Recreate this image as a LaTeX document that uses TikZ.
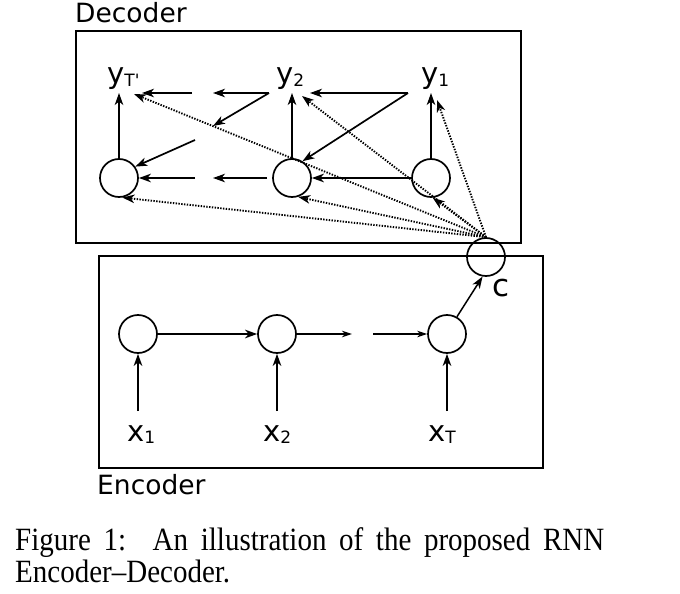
\documentclass[tikz,border=0pt]{standalone}
\usepackage{fontspec}
\setmainfont{Liberation Serif}
\newfontfamily\djv{DejaVu Sans}
\usetikzlibrary{arrows.meta}
\newcommand{\sbs}[1]{\raisebox{-2.5pt}{\fontsize{17}{17}\selectfont #1}}
\begin{document}
\begin{tikzpicture}[x=1pt,y=-1pt,
  unit/.style={circle,draw,line width=1.7pt,minimum size=38pt,inner sep=0pt},
  var/.style={font=\djv\fontsize{29}{29}\selectfont,inner sep=0pt,anchor=base west},
  ttl/.style={font=\djv\fontsize{26.5}{26.5}\selectfont,inner sep=0pt,anchor=base west},
  box/.style={draw,line width=1.7pt},
  arr/.style={-{Stealth[length=12pt,width=8.5pt,inset=3.5pt]},line width=1.7pt},
  thinarr/.style={-{Stealth[length=10pt,width=6.5pt,inset=3pt]},line width=1.1pt},
  dots/.style={-{Stealth[length=12pt,width=8.5pt,inset=3.5pt]},line width=1.9pt,dash pattern=on 1.4pt off 1.4pt}]
\useasboundingbox (0,0) rectangle (680,594);
% boxes
\draw[box] (76,31) rectangle (521,243);
\draw[box] (99,256) rectangle (543,468);
\node[ttl] (dec) at (75,23) {Decoder};
\node[ttl] (enc) at (97,494) {Encoder};
% decoder units
\node[unit] (d3) at (119,178) {};
\node[unit] (d2) at (292,178) {};
\node[unit] (d1) at (431,178) {};
\node[var] (yT) at (107,84) {y\sbs{T\textquotesingle}};
\node[var] (y2) at (276,84) {y\sbs{2}};
\node[var] (y1) at (421,84) {y\sbs{1}};
% context
\node[unit] (c) at (486,257) {};
\node[var,font=\djv\fontsize{31}{31}\selectfont] (cl) at (492,296) {c};
% encoder units
\node[unit] (e1) at (138,334) {};
\node[unit] (e2) at (277,334) {};
\node[unit] (e3) at (447,334) {};
\node[var] (x1) at (127,441) {x\sbs{1}};
\node[var] (x2) at (263,441) {x\sbs{2}};
\node[var] (xT) at (428,441) {x\sbs{T}};
% helper coordinates
\coordinate (yTh) at (119,93);
\coordinate (y2h) at (292,93);
\coordinate (y1h) at (431,93);
\coordinate (yTd) at (134,94);
\coordinate (y2d) at (302,96);
\coordinate (y1d) at (437,100);
\coordinate (t1a) at (192,93);
\coordinate (t1b) at (142,93);
\coordinate (t2a) at (269,93);
\coordinate (t2b) at (213,93);
\coordinate (t3a) at (408,93);
\coordinate (t3b) at (310,93);
\coordinate (g2b) at (213,126);
\coordinate (g1a) at (195,140);
\coordinate (b1a) at (195,178);
\coordinate (b2a) at (267,178);
\coordinate (b2b) at (213,178);
\coordinate (x1t) at (138,411);
\coordinate (x2t) at (277,411);
\coordinate (xTt) at (447,411);
\coordinate (m1) at (352,334);
\coordinate (m2) at (373,334);
% decoder vertical arrows
\draw[arr] (d3.north) -- (yTh);
\draw[arr] (d2.north) -- (y2h);
\draw[arr] (d1.north) -- (y1h);
% top row arrows
\draw[arr] (t1a) -- (t1b);
\draw[arr] (t2a) -- (t2b);
\draw[arr] (t3a) -- (t3b);
% diagonals
\draw[arr] (t2a) -- (g2b);
\draw[arr] (g1a) -- (d3.35);
\draw[arr] (t3a) -- (d2.58);
% bottom row
\draw[arr] (b1a) -- (d3.east);
\draw[arr] (b2a) -- (b2b);
\draw[arr,line width=2.1pt] (d1.west) -- (d2.east);
% dotted context arrows
\draw[dots] (c.north) -- (yTd);
\draw[dots] (c.north) -- (y2d);
\draw[dots] (c.north) -- (y1d);
\draw[dots] (c.north) -- (d3.-80);
\draw[dots] (c.north) -- (d2.-72);
\draw[dots] (c.north) -- (d1.-85);
% encoder
\draw[arr] (x1t) -- (e1.south);
\draw[arr] (x2t) -- (e2.south);
\draw[arr] (xTt) -- (e3.south);
\draw[arr,line width=2.3pt] (e1.east) -- (e2.west);
\draw[thinarr] (e2.east) -- (m1);
\draw[thinarr] (m2) -- (e3.west);
\draw[arr,line width=1.5pt] (e3.60) -- (c.-100);
% caption
\node[inner sep=0pt,anchor=base west,font=\fontsize{29}{36}\selectfont] (cap1) at (15,550)
  {\scalebox{1}[1.12]{\hbox to 589pt{Figure\hfill 1:\hskip 14pt plus 1fill An\hfill illustration\hfill of\hfill the\hfill proposed\hfill RNN}}};
\node[inner sep=0pt,anchor=base west,font=\fontsize{29}{36}\selectfont] (cap2) at (15,582) {\scalebox{1}[1.12]{Encoder--Decoder.}};
\end{tikzpicture}
\end{document}
